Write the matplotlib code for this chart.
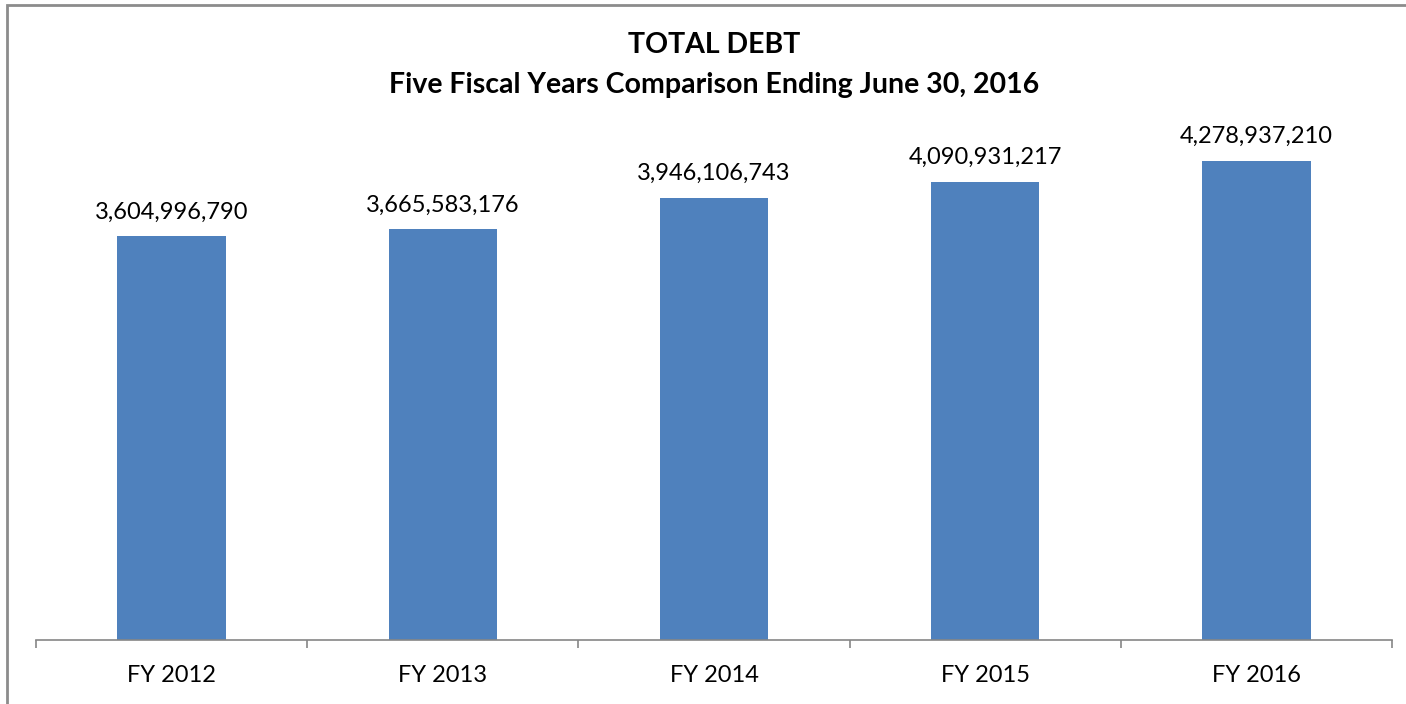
import matplotlib.pyplot as plt
from matplotlib.patches import Rectangle

# données
years = ["FY 2012", "FY 2013", "FY 2014", "FY 2015", "FY 2016"]
debt = [3604996790, 3665583176, 3946106743, 4090931217, 4278937210]

plt.rcParams['font.family'] = ['Lato', 'DejaVu Sans']

W, H = 1406, 704
fig = plt.figure(figsize=(W / 100, H / 100), dpi=100)
ax = fig.add_axes([36 / W, 1 - 640 / H, (1392 - 36) / W, (640 - 80) / H])

x = list(range(len(years)))
bars = ax.bar(x, debt, width=0.4, color='#4F81BD')

for xi, v in zip(x, debt):
    ax.annotate(f"{v:,}", (xi, v), xytext=(0, 10), textcoords='offset points',
                ha='center', va='bottom', fontsize=17, color='black')

ax.set_xlim(-0.5, len(years) - 0.5)
ax.set_ylim(0, 5e9)
ax.set_yticks([])
ax.set_xticks(x)
ax.set_xticklabels(years, fontsize=17)
ax.set_xticks([i - 0.5 for i in range(len(years) + 1)], minor=True)
ax.tick_params(axis='x', which='major', length=0, pad=18)
ax.tick_params(axis='x', which='minor', length=6, width=1.2, color='#868686', direction='out')

for s in ['top', 'right', 'left']:
    ax.spines[s].set_visible(False)
ax.spines['bottom'].set_color('#868686')
ax.spines['bottom'].set_linewidth(1.2)

fig.text(714 / W, 1 - 45 / H, "TOTAL DEBT", ha='center', va='center',
         fontsize=20.5, fontweight='bold')
fig.text(714 / W, 1 - 85 / H, "Five Fiscal Years Comparison Ending June 30, 2016",
         ha='center', va='center', fontsize=20.5, fontweight='bold')

# cadre du graphique
fig.patches.append(Rectangle((7 / W, -0.1), 1.2, 1 - 5 / H + 0.1, transform=fig.transFigure,
                             fill=False, edgecolor='#8C8C8C', linewidth=2))

fig.savefig("out.png", dpi=100)
